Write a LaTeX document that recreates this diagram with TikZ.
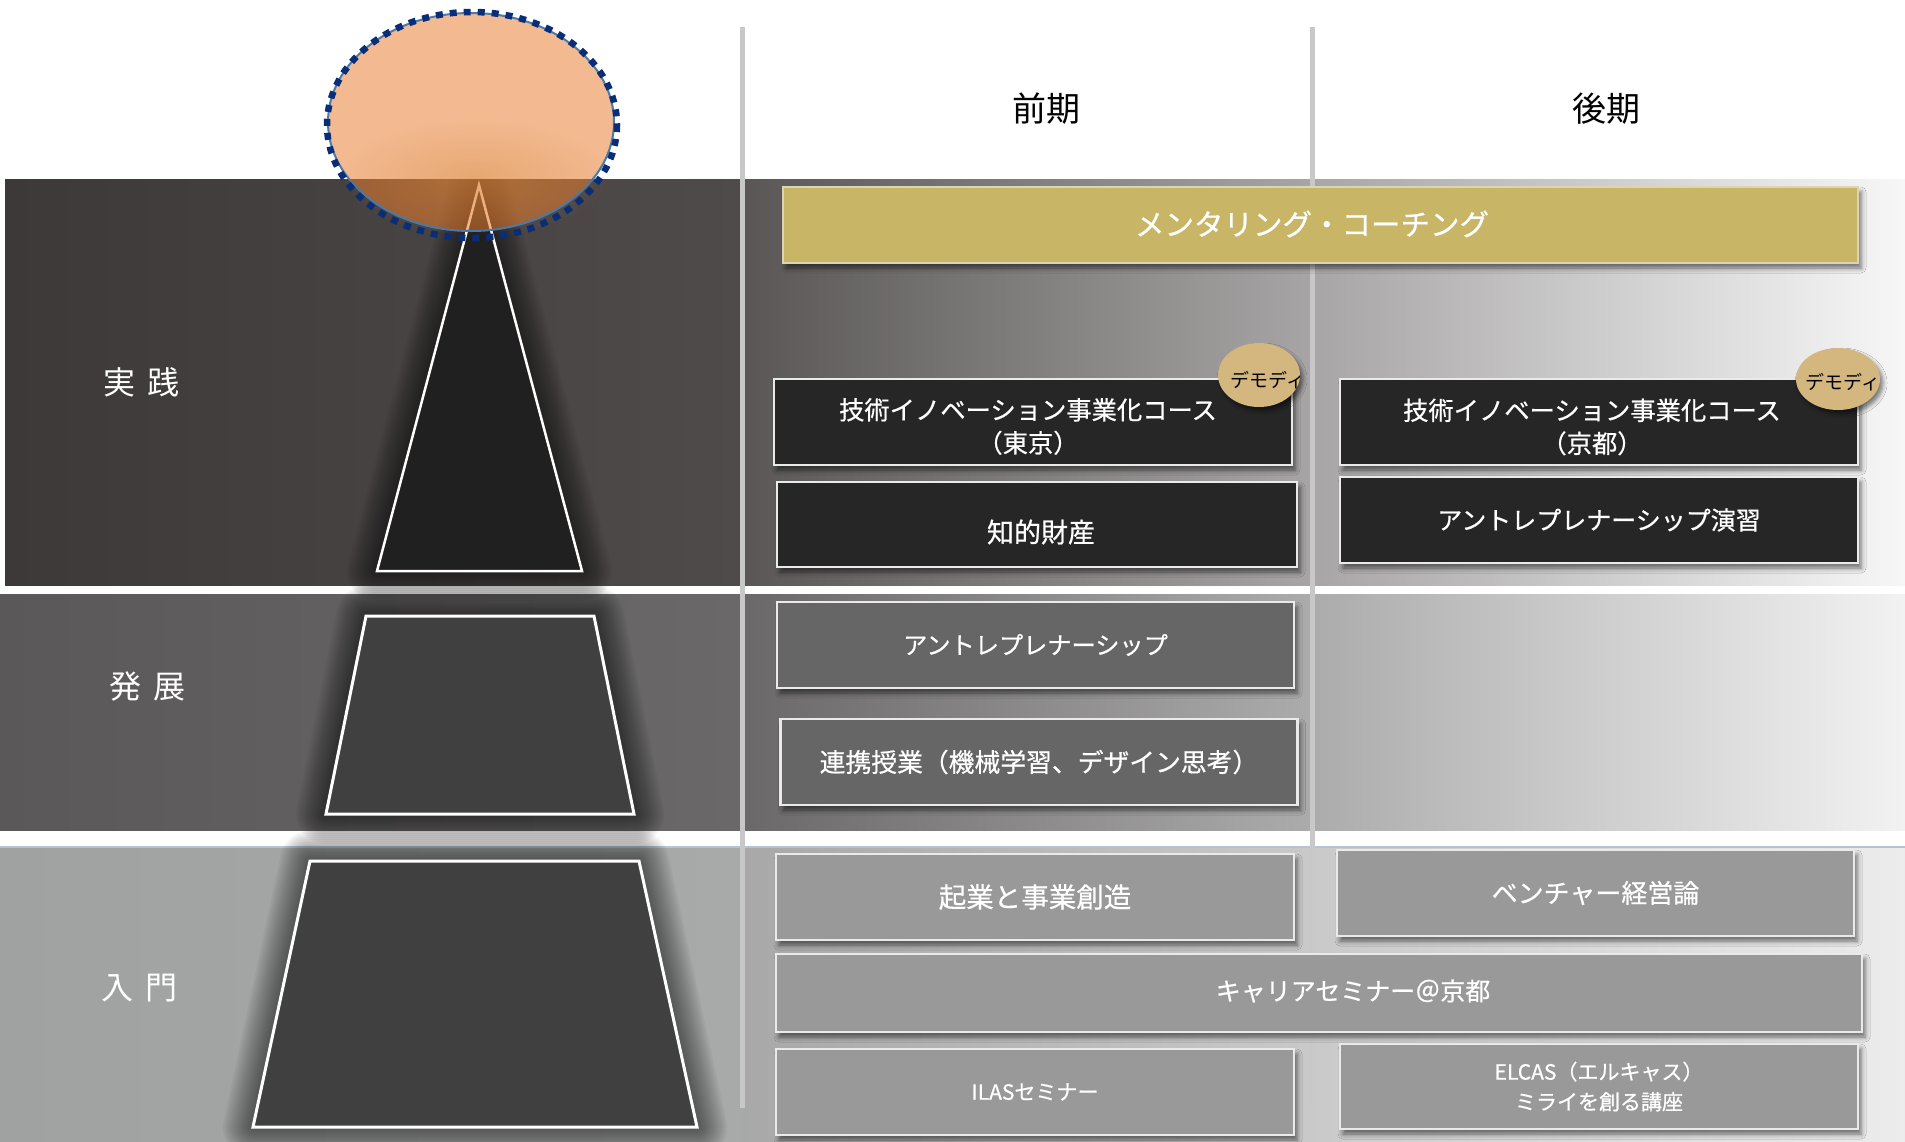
\documentclass[tikz,border=0pt]{standalone}
\usepackage{fontspec}
\setmainfont{Noto Sans CJK JP}
\newfontfamily\boxfont[FakeBold=0.6]{Noto Sans CJK JP}
\usetikzlibrary{shadows.blur,fadings}
\tikzfading[name=glowfade, inner color=transparent!0, outer color=transparent!100]
\definecolor{bandAl}{HTML}{3D3939}
\definecolor{bandAr}{HTML}{4F4B4B}
\definecolor{bandAx}{HTML}{5A5656}
\definecolor{bandAy}{HTML}{F7F7F7}
\definecolor{bandBl}{HTML}{5A5858}
\definecolor{bandBr}{HTML}{6A6868}
\definecolor{bandBy}{HTML}{F2F2F2}
\definecolor{bandCl}{HTML}{A0A2A2}
\definecolor{bandCr}{HTML}{A8AAAA}
\definecolor{bandCx}{HTML}{A8A8A8}
\definecolor{bandCy}{HTML}{ECECEC}
\definecolor{vline}{HTML}{C8C8C8}
\definecolor{boxdark}{HTML}{262626}
\definecolor{boxmid}{HTML}{666666}
\definecolor{boxlight}{HTML}{999999}
\definecolor{boxline}{HTML}{EAEAEA}
\definecolor{gold}{HTML}{C8B566}
\definecolor{badgefill}{HTML}{D4B77F}
\definecolor{orangefill}{HTML}{EA7B2E}
\definecolor{glowc}{HTML}{D08A3A}
\definecolor{ringsolid}{HTML}{4A7AAA}
\definecolor{ringdash}{HTML}{0A2D78}
\definecolor{tri}{HTML}{202020}
\definecolor{trap}{HTML}{404040}
\definecolor{topline}{HTML}{B4C4D4}
\begin{document}
\begin{tikzpicture}[x=1pt,y=-1pt,
  vln/.style={draw=vline, line width=5pt},
  pyr/.style={draw=white, line width=3pt, line join=miter},
  halo/.style={draw=black, draw opacity=0.04, line join=round},
  course/.style={rectangle, draw=boxline, line width=2.2pt, text=white, align=center, inner sep=0pt,
    blur shadow={shadow xshift=3pt, shadow yshift=-5pt, shadow blur radius=5pt, shadow opacity=55}},
  darkbox/.style={course, fill=boxdark},
  midbox/.style={course, fill=boxmid},
  lightbox/.style={course, fill=boxlight},
  goldbox/.style={course, fill=gold, draw=boxline!60!gold, line width=1.5pt},
  btext/.style={text=white, align=center, inner sep=0pt},
  sidelabel/.style={text=white, font=\fontsize{32}{36}\selectfont, inner sep=0pt},
  header/.style={text=black, font=\fontsize{34}{38}\selectfont, inner sep=0pt},
  badge/.style={fill=badgefill, blur shadow={shadow xshift=3pt, shadow yshift=-4pt, shadow blur radius=4pt, shadow opacity=50}},
  badgetext/.style={text=black, font=\fontsize{19}{22}\selectfont, inner sep=0pt}
]
\useasboundingbox (0,0) rectangle (1905,1141);
\fill[white] (0,0) rectangle (1905,1141);

% bands
\fill[left color=bandAl, right color=bandAr] (5,179) rectangle (742,585);
\fill[left color=bandAx, right color=bandAy] (742,179) rectangle (1905,585);
\fill[left color=bandBl, right color=bandBr] (0,594) rectangle (742,830);
\fill[left color=bandBr, right color=bandBy] (742,594) rectangle (1905,830);
\fill[left color=bandCl, right color=bandCr] (0,847) rectangle (742,1141);
\fill[left color=bandCx, right color=bandCy] (742,847) rectangle (1905,1141);
\draw[topline, line width=1.2pt] (0,847) -- (1905,847);

% column separators
\coordinate (v1t) at (742,27);
\coordinate (v1b) at (742,1108);
\coordinate (v2t) at (1312,27);
\coordinate (v2b) at (1312,1108);
\draw[vln] (v1t) -- (v1b);
\draw[vln] (v2t) -- (v2b);

% pyramid corners
\coordinate (ta) at (479,185);
\coordinate (tb) at (582,571);
\coordinate (tc) at (377,571);
\coordinate (ba) at (366,616);
\coordinate (bb) at (594,616);
\coordinate (bc) at (634,814);
\coordinate (bd) at (326,814);
\coordinate (ca) at (310,861);
\coordinate (cb) at (639,861);
\coordinate (cc) at (697,1127);
\coordinate (cd) at (253,1127);

% soft dark halos
\begin{scope}
  \clip (0,179) rectangle (742,1141);
  \foreach \w in {60,56,...,4} {
    \draw[halo, line width=\w pt] (ta) -- (tb) -- (tc) -- cycle;
  }
\end{scope}
\foreach \w in {60,56,...,4} {
  \draw[halo, line width=\w pt] (ba) -- (bb) -- (bc) -- (bd) -- cycle;
  \draw[halo, line width=\w pt] (ca) -- (cb) -- (cc) -- (cd) -- cycle;
}

% pyramid
\filldraw[pyr, fill=tri, line width=2.5pt] (ta) -- (tb) -- (tc) -- cycle;
\filldraw[pyr, fill=trap] (ba) -- (bb) -- (bc) -- (bd) -- cycle;
\filldraw[pyr, fill=trap] (ca) -- (cb) -- (cc) -- (cd) -- cycle;

% goal ellipse
\fill[orangefill, opacity=0.53] (471,122) ellipse [x radius=143, y radius=109];
\fill[glowc, path fading=glowfade, fill opacity=0.35] (475,178) ellipse [x radius=135, y radius=58];
\draw[ringsolid, line width=2pt] (471,122) ellipse [x radius=143, y radius=109];
\draw[ringdash, line width=6.5pt, dash pattern=on 7pt off 7pt] (472,125) ellipse [x radius=145, y radius=113];

% headers
\node[header] (zenki) at (1046,109) {前期};
\node[header] (kouki) at (1606,109) {後期};

% side labels
\node[sidelabel] (jissen) at (141,382) {実\hspace{12pt}践};
\node[sidelabel] (hatten) at (147,686) {発\hspace{12pt}展};
\node[sidelabel] (nyumon) at (139,988) {入\hspace{12pt}門};

% mentoring
\node[goldbox, minimum width=1075, minimum height=76] (mentor) at (1320.5,225) {};
\node[btext, font=\boxfont\fontsize{29.5}{34}\selectfont] (mentorT) at (1312,224) {メンタリング・コーチング};

% practice courses
\node[darkbox, minimum width=518, minimum height=86] (tokyo) at (1033,422) {};
\node[btext, font=\boxfont\fontsize{25.3}{33}\selectfont] (tokyoT) at (1028,426.5) {技術イノベーション事業化コース\\（東京）};
\node[darkbox, minimum width=518, minimum height=86] (kyoto) at (1599,422) {};
\node[btext, font=\boxfont\fontsize{25.3}{33}\selectfont] (kyotoT) at (1592,427) {技術イノベーション事業化コース\\（京都）};
\node[darkbox, minimum width=520, minimum height=85] (ip) at (1037,524.5) {};
\node[btext, font=\boxfont\fontsize{27}{33}\selectfont] (ipT) at (1041,532) {知的財産};
\node[darkbox, minimum width=518, minimum height=86, font=\boxfont\fontsize{25}{31}\selectfont] (entpr) at (1599,520) {アントレプレナーシップ演習};

% badges
\fill[badge] (1259,375) ellipse [x radius=41, y radius=32];
\begin{scope}
  \clip (1259,375) ellipse [x radius=41, y radius=32];
  \node[badgetext] (demo1) at (1268,380) {デモディ};
\end{scope}
\fill[badge] (1838,379) ellipse [x radius=42, y radius=31];
\begin{scope}
  \clip (1838,379) ellipse [x radius=42, y radius=31];
  \node[badgetext] (demo2) at (1843,382) {デモディ};
\end{scope}

% development courses
\node[midbox, minimum width=517, minimum height=86, font=\boxfont\fontsize{24.2}{30}\selectfont] (entre) at (1035.5,645) {アントレプレナーシップ};
\node[midbox, minimum width=517, minimum height=86, font=\boxfont\fontsize{25.8}{31}\selectfont] (renkei) at (1039,762) {連携授業（機械学習、デザイン思考）};

% introductory courses
\node[lightbox, minimum width=518, minimum height=86, font=\boxfont\fontsize{27.5}{32}\selectfont] (kigyo) at (1035,897) {起業と事業創造};
\node[lightbox, minimum width=517, minimum height=86, font=\boxfont\fontsize{26}{32}\selectfont] (venture) at (1595.5,893) {ベンチャー経営論};
\node[lightbox, minimum width=1086, minimum height=78] (career) at (1319,993) {};
\node[btext, font=\boxfont\fontsize{25}{30}\selectfont] (careerT) at (1353,991) {キャリアセミナー＠京都};
\node[lightbox, minimum width=518, minimum height=86, font=\boxfont\fontsize{21}{27}\selectfont] (ilas) at (1035,1092) {ILASセミナー};
\node[lightbox, minimum width=518, minimum height=85, font=\boxfont\fontsize{21}{30}\selectfont] (elcas) at (1599,1086.5) {ELCAS（エルキャス）\\ミライを創る講座};
\end{tikzpicture}
\end{document}
